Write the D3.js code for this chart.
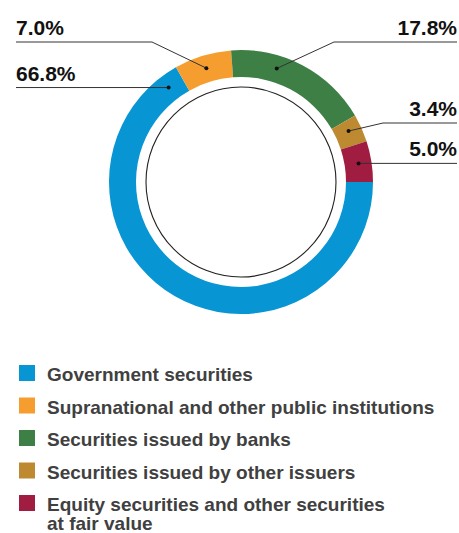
<!DOCTYPE html>
<html>
<head>
<meta charset="utf-8">
<script src="https://cdn.jsdelivr.net/npm/d3@7"></script>
<style>
  body { margin: 0; background: #fff; }
</style>
</head>
<body>
<div id="chart-area"></div>
<script>
var categories = ["Government securities", "Supranational and other public institutions",
  "Securities issued by banks", "Securities issued by other issuers",
  "Equity securities and other securities at fair value"];
var shares = [66.8, 7.0, 17.8, 3.4, 5.0];
var colors = ["#0796d3", "#f59e2f", "#3e7f46", "#bd8a32", "#a01c41"];
// legend lines (last entry wraps)
var legendLines = [["Government securities"], ["Supranational and other public institutions"],
  ["Securities issued by banks"], ["Securities issued by other issuers"],
  ["Equity securities and other securities", "at fair value"]];

// label layout: where the dot sits along the slice, which side, line y and elbow
var labelLayout = [
  {at: 0.967, side: "left", lineY: null, elbow: null},
  {at: 0.5, side: "left", lineY: 42, elbow: 152},
  {at: 0.34, side: "right", lineY: 42, elbow: 334},
  {at: 0.4, side: "right", lineY: 123, elbow: 383},
  {at: 0.5, side: "right", lineY: null, elbow: null}
];

var width = 459, height = 533;
var cx = 241, cy = 182;
var outerR = 132, innerR = 105, ringR = 95, dotR = 119;

var data = categories.map((c, i) => ({name: c, value: shares[i], color: colors[i]}));

var svg = d3.select("#chart-area").append("svg")
  .attr("width", width)
  .attr("height", height);

var pie = d3.pie()
  .value((d) => d.value)
  .sort(null)
  .startAngle(Math.PI / 2)
  .endAngle(Math.PI / 2 + 2 * Math.PI);

var arc = d3.arc().innerRadius(innerR).outerRadius(outerR);
var arcs = pie(data);

var g = svg.append("g")
  .attr("transform", "translate(" + cx + ", " + cy + ")");

g.selectAll("path").data(arcs)
  .enter().append("path")
  .attr("d", arc)
  .attr("fill", (d) => d.data.color);

g.append("circle")
  .attr("r", ringR)
  .attr("fill", "none")
  .attr("stroke", "#222")
  .attr("stroke-width", 1.1);

// leader lines + labels
arcs.forEach((d, i) => {
  var lay = labelLayout[i];
  var a = d.startAngle + (d.endAngle - d.startAngle) * lay.at;
  var px = cx + Math.sin(a) * dotR;
  var py = cy - Math.cos(a) * dotR;
  var ly = lay.lineY == null ? py : lay.lineY;
  var endX = lay.side == "left" ? 16 : 457;
  var pts = [[px, py]];
  if (lay.elbow != null) pts.push([lay.elbow, ly]);
  pts.push([endX, ly]);

  svg.append("path")
    .attr("d", d3.line()(pts))
    .attr("fill", "none")
    .attr("stroke", "#333")
    .attr("stroke-width", 1);

  svg.append("circle")
    .attr("cx", px)
    .attr("cy", py)
    .attr("r", 2)
    .attr("fill", "#111");

  svg.append("text")
    .attr("x", endX)
    .attr("y", ly - 7)
    .attr("text-anchor", lay.side == "left" ? "start" : "end")
    .attr("font-family", "Liberation Sans, Arial, sans-serif")
    .attr("font-weight", "bold")
    .attr("font-size", "21px")
    .attr("fill", "#111")
    .text(d3.format(".1f")(d.data.value) + "%");
});

// legend
var legend = svg.append("g").attr("class", "legend");
var rows = legend.selectAll("g").data(data)
  .enter().append("g")
  .attr("transform", (d, i) => "translate(19, " + (365 + i * 32.5) + ")");

rows.append("rect")
  .attr("width", 16)
  .attr("height", 16)
  .attr("fill", (d) => d.color);

rows.append("text")
  .attr("x", 28)
  .attr("y", 16)
  .attr("font-family", "Liberation Sans, Arial, sans-serif")
  .attr("font-weight", "bold")
  .attr("font-size", "19px")
  .attr("fill", "#404040")
  .each(function(d, i) {
    var t = d3.select(this);
    legendLines[i].forEach((line, j) => {
      t.append("tspan")
        .attr("x", 28)
        .attr("dy", j == 0 ? 0 : 19)
        .text(line);
    });
  });
</script>
</body>
</html>
